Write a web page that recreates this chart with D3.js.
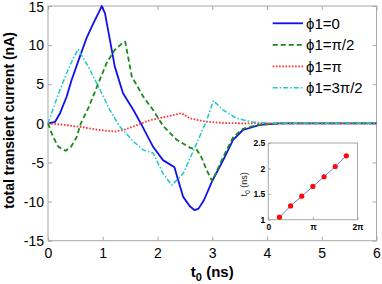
<!DOCTYPE html>
<html><head><meta charset="utf-8">
<script src="https://cdn.jsdelivr.net/npm/d3@7"></script>
<style>
html,body{margin:0;padding:0;background:#fff;}
svg{display:block;font-family:"Liberation Sans",Arial,sans-serif;}
</style></head>
<body>
<svg id="c" width="382" height="284"></svg>
<script>
// ---- data ----
const tBlue = [0,0.13,0.22,0.34,0.43,0.58,0.71,0.83,0.95,0.98,1.04,1.13,1.22,1.37,1.56,1.71,1.92,2.1,2.31,2.35,2.47,2.59,2.68,2.75,2.85,2.99,3.2,3.38,3.56,3.87,4.24,4.6,5,6];
const vBlue = [0,0.2,1.3,3.4,5.5,8.5,11.0,12.8,14.5,15,14.1,10.7,7.25,3.85,1.7,-0.2,-3.0,-4.7,-5.6,-6.6,-9.4,-10.6,-11.1,-10.9,-9.8,-7.5,-4.7,-2.1,-0.85,-0.2,0,0,0,0];
const tGreen = [0,0.09,0.19,0.32,0.42,0.52,0.6,0.74,0.89,1.07,1.22,1.35,1.41,1.53,1.74,1.92,2.1,2.35,2.59,2.72,2.8,2.9,3.0,3.2,3.38,3.56,3.87,4.24,4.6,5,6];
const vGreen = [0,-1.7,-3.0,-3.5,-3.0,-1.8,0,2.0,4.6,7.7,9.4,10.2,10.45,6.0,3.4,1.7,-0.3,-2.1,-3.1,-3.4,-4.3,-6.0,-7.4,-4.3,-1.8,-0.7,-0.15,0,0,0,0];
const tRed = [0,0.3,0.64,0.95,1.22,1.4,1.56,1.86,2.16,2.44,2.59,2.75,2.9,3.2,3.6,4,6];
const vRed = [0,-0.2,-0.5,-0.85,-1.05,-0.8,-0.4,0.4,0.85,1.3,0.65,0.4,0.2,0.05,0,0,0];
const tCyan = [0,0.1,0.22,0.34,0.46,0.55,0.77,0.95,1.13,1.31,1.56,1.74,1.92,2.1,2.26,2.47,2.72,2.9,3.02,3.2,3.44,3.75,4.1,4.5,6];
const vCyan = [0,2.0,4.3,6.4,8.3,9.5,6.8,4.3,1.7,-0.4,-2.3,-3.4,-3.8,-6.4,-7.9,-6.4,-2.5,0.4,2.9,1.7,0.65,0.15,0.03,0,0];
const legendLabels = ["\u03d51=0","\u03d51=\u03c0/2","\u03d51=\u03c0","\u03d51=3\u03c0/2"];
const xTicks = [0,1,2,3,4,5,6];
const yTicks = [-15,-10,-5,0,5,10,15];
const insetPhase = [Math.PI/4,Math.PI/2,3*Math.PI/4,Math.PI,5*Math.PI/4,3*Math.PI/2,7*Math.PI/4];
const insetT0 = [1.05,1.27,1.46,1.65,1.84,2.04,2.25];
const insetXTicks = [0,Math.PI,2*Math.PI];
const insetXLabels = ["0","\u03c0","2\u03c0"];
const insetYTicks = [1,1.5,2,2.5];

// ---- layout ----
const svg = d3.select("#c");
const L=48, R=376.5, T=6, B=240.7;
const x = d3.scaleLinear().domain([0,6]).range([L,R]);
const y = d3.scaleLinear().domain([-15,15]).range([B,T]);
const frame="#a8a8a8";

svg.append("rect").attr("x",L).attr("y",T).attr("width",R-L).attr("height",B-T)
  .attr("fill","#fff").attr("stroke",frame).attr("stroke-width",1);

// axes
const gx = svg.append("g").attr("transform",`translate(0,${B})`)
  .call(d3.axisBottom(x).tickValues(xTicks).tickFormat(d3.format("d")).tickSizeInner(-4).tickSizeOuter(0).tickPadding(7));
const gxt = svg.append("g").attr("transform",`translate(0,${T})`)
  .call(d3.axisTop(x).tickValues(xTicks).tickFormat("").tickSizeInner(-4).tickSizeOuter(0));
const gy = svg.append("g").attr("transform",`translate(${L},0)`)
  .call(d3.axisLeft(y).tickValues(yTicks).tickFormat(d3.format("d")).tickSizeInner(-4).tickSizeOuter(0).tickPadding(4));
const gyr = svg.append("g").attr("transform",`translate(${R},0)`)
  .call(d3.axisRight(y).tickValues(yTicks).tickFormat("").tickSizeInner(-4).tickSizeOuter(0));
[gx,gxt,gy,gyr].forEach(g=>{
  g.select(".domain").remove();
  g.selectAll(".tick line").attr("stroke",frame);
  g.selectAll("text").attr("fill","#000").style("font-size","14px").style("font-family","Liberation Sans, Arial, sans-serif");
});
gy.selectAll("text").text(d=>d<0?"-"+Math.abs(d):d).attr("dy",d=>d===15?"0.42em":"0.34em");

// series
const series = [
  {t:tBlue,v:vBlue,color:"#1010f0",dash:null,w:1.8},
  {t:tGreen,v:vGreen,color:"#1a8a1a",dash:"5,3",w:1.8},
  {t:tRed,v:vRed,color:"#ff3030",dash:"1.6,1.6",w:1.8},
  {t:tCyan,v:vCyan,color:"#20c8c8",dash:"5,2,1.5,2",w:1.5}
];
const line = d3.line().x(d=>x(d[0])).y(d=>y(d[1]));
series.forEach(s=>{
  svg.append("path").datum(d3.zip(s.t,s.v)).attr("d",line)
    .attr("fill","none").attr("stroke",s.color).attr("stroke-width",s.w)
    .attr("stroke-dasharray",s.dash).attr("stroke-linejoin","round");
});

// legend
series.forEach((s,i)=>{
  const yy = 23.3 + i*21.5;
  svg.append("line").attr("x1",272.7).attr("x2",303).attr("y1",yy).attr("y2",yy)
    .attr("stroke",s.color).attr("stroke-width",s.w).attr("stroke-dasharray",s.dash);
  svg.append("text").attr("x",306).attr("y",yy+5.5).text(legendLabels[i])
    .style("font-size","15px");
});

// axis labels
svg.append("text").attr("transform",`translate(${x(3)},277)`).attr("text-anchor","middle")
  .style("font-size","15px").style("font-weight","bold")
  .html('t<tspan dy="4" font-size="11">0</tspan><tspan dy="-4"> (ns)</tspan>');
svg.append("text").attr("transform",`translate(14,${(T+B)/2-3}) rotate(-90)`).attr("text-anchor","middle")
  .style("font-size","14px").style("font-weight","bold").text("total transient current (nA)");

// inset
const iL=268.3, iR=357.5, iT=143, iB=219.7;
const ix = d3.scaleLinear().domain([0,2*Math.PI]).range([iL,iR]);
const iy = d3.scaleLinear().domain([1,2.5]).range([iB,iT]);
svg.append("rect").attr("x",iL).attr("y",iT).attr("width",iR-iL).attr("height",iB-iT)
  .attr("fill","#fff").attr("stroke",frame).attr("stroke-width",1);
const igx = svg.append("g").attr("transform",`translate(0,${iB})`)
  .call(d3.axisBottom(ix).tickValues(insetXTicks).tickFormat((d,i)=>insetXLabels[i]).tickSizeInner(-2.5).tickSizeOuter(0).tickPadding(4));
const igy = svg.append("g").attr("transform",`translate(${iL},0)`)
  .call(d3.axisLeft(iy).tickValues(insetYTicks).tickFormat(d3.format("")).tickSizeInner(-2.5).tickSizeOuter(0).tickPadding(3));
[igx,igy].forEach(g=>{
  g.select(".domain").remove();
  g.selectAll(".tick line").attr("stroke",frame);
  g.selectAll("text").attr("fill","#000").style("font-size","8.5px").style("font-weight","bold").style("font-family","Liberation Sans, Arial, sans-serif");
});
svg.append("text").attr("transform",`translate(247,${(iT+iB)/2+3}) rotate(-90)`).attr("text-anchor","middle")
  .style("font-size","9px").attr("fill","#222")
  .html('t<tspan dy="2.5" font-size="7">0</tspan><tspan dy="-2.5"> (ns)</tspan>');
svg.append("path").datum(d3.zip(insetPhase,insetT0))
  .attr("d",d3.line().x(d=>ix(d[0])).y(d=>iy(d[1])))
  .attr("fill","none").attr("stroke","#6b7cf0").attr("stroke-width",1);
svg.selectAll("circle.pt").data(d3.zip(insetPhase,insetT0)).enter().append("circle")
  .attr("cx",d=>ix(d[0])).attr("cy",d=>iy(d[1])).attr("r",2.6).attr("fill","#ff0a0a");
</script>
</body></html>
